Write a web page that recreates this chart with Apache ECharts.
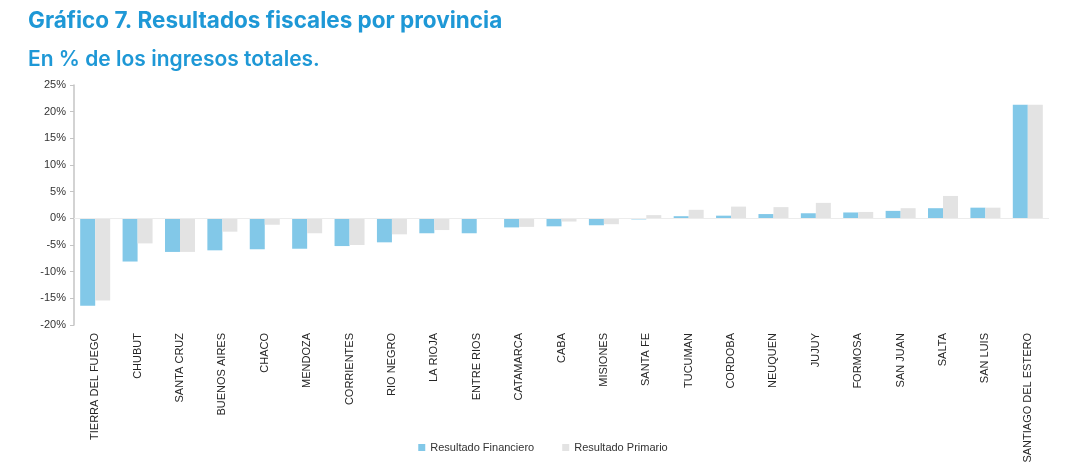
<!DOCTYPE html>
<html>
<head>
<meta charset="utf-8">
<script src="https://cdn.jsdelivr.net/npm/echarts@6/dist/echarts.min.js"></script>
<style>
  html, body { margin: 0; padding: 0; background: #fff; }
  #chart { width: 1086px; height: 469px; }
</style>
</head>
<body>
<div id="chart"></div>
<script>
// provincias
const provincias = ['TIERRA DEL FUEGO', 'CHUBUT', 'SANTA CRUZ', 'BUENOS AIRES', 'CHACO', 'MENDOZA',
  'CORRIENTES', 'RIO NEGRO', 'LA RIOJA', 'ENTRE RIOS', 'CATAMARCA', 'CABA', 'MISIONES', 'SANTA FE',
  'TUCUMAN', 'CORDOBA', 'NEUQUEN', 'JUJUY', 'FORMOSA', 'SAN JUAN', 'SALTA', 'SAN LUIS', 'SANTIAGO DEL ESTERO']
// resultado financiero, en % de ingresos
const financiero = [-16.4, -8.1, -6.3, -6.0, -5.8, -5.7, -5.2, -4.5, -2.8, -2.8, -1.7, -1.5, -1.3, -0.2,
  0.4, 0.5, 0.8, 0.95, 1.1, 1.4, 1.9, 2.0, 21.3]
// resultado primario
const primario = [-15.4, -4.7, -6.3, -2.5, -1.2, -2.8, -5.0, -3.0, -2.2, 0, -1.6, -0.6, -1.1, 0.6,
  1.6, 2.2, 2.1, 2.9, 1.2, 1.9, 4.2, 2.0, 21.3]
const yTicks = { min: -20, max: 25, step: 5 }

const chart = echarts.init(document.getElementById('chart'))
const option = {
  animation: false,
  title: [
    {
      text: 'Gráfico 7. Resultados fiscales por provincia',
      left: 23,
      top: 5,
      textStyle: { color: '#1e98d6', fontSize: 22.5, fontWeight: 'bold', fontFamily: 'Inter' }
    },
    {
      text: 'En % de los ingresos totales.',
      left: 23,
      top: 44,
      textStyle: { color: '#1e98d6', fontSize: 21, fontWeight: 600, fontFamily: 'Inter' }
    }
  ],
  legend: {
    bottom: 11,
    left: 'center',
    itemWidth: 7,
    itemHeight: 7,
    itemGap: 28,
    icon: 'rect',
    textStyle: { color: '#333', fontSize: 11, fontFamily: 'Liberation Sans' },
    data: ['Resultado Financiero', 'Resultado Primario']
  },
  grid: { left: 74, right: 37, top: 85, bottom: 144 },
  xAxis: {
    type: 'category',
    data: provincias,
    axisLine: { show: false, onZero: false },
    axisTick: { show: false },
    axisLabel: {
      rotate: 90,
      margin: 8,
      interval: 0,
      color: '#262626',
      fontSize: 11,
      fontFamily: 'Liberation Sans'
    }
  },
  yAxis: {
    type: 'value',
    min: yTicks.min,
    max: yTicks.max,
    interval: yTicks.step,
    axisLine: { show: true, lineStyle: { color: '#c4c4c4', width: 1.5 } },
    axisTick: { show: true, length: 4, lineStyle: { color: '#c4c4c4' } },
    splitLine: { show: false },
    axisLabel: {
      formatter: '{value}%',
      color: '#333',
      fontSize: 11,
      margin: 8,
      fontFamily: 'Liberation Sans'
    }
  },
  series: [
    {
      name: 'Resultado Financiero',
      type: 'bar',
      data: financiero,
      barWidth: 15,
      barGap: '0%',
      itemStyle: { color: '#82c8e8' },
      markLine: {
        silent: true,
        symbol: 'none',
        label: { show: false },
        lineStyle: { color: '#ececec', type: 'solid', width: 1 },
        data: [{ yAxis: 0 }]
      }
    },
    {
      name: 'Resultado Primario',
      type: 'bar',
      data: primario,
      barWidth: 15,
      barGap: '0%',
      itemStyle: { color: '#e3e3e3' }
    }
  ]
}
chart.setOption(option)
</script>
</body>
</html>
